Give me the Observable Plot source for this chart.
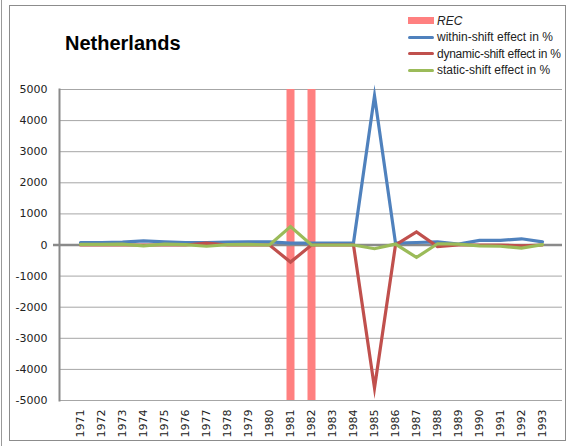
<!DOCTYPE html>
<html>
<head>
<meta charset="utf-8">
<script src="https://cdn.jsdelivr.net/npm/d3@7"></script>
<script src="https://cdn.jsdelivr.net/npm/@observablehq/plot@0.6"></script>
<style>
  html, body { margin: 0; padding: 0; background: #fff; }
  #wrap { position: relative; width: 572px; height: 446px; overflow: hidden; background: #fff; }
  #frame { position: absolute; left: 9px; top: 5px; width: 557px; height: 436px; border: 1px solid #8c8c8c; box-sizing: border-box; pointer-events: none; }
  #edge { position: absolute; left: 1px; top: 0; width: 1px; height: 446px; background: #9a9a9a; }
  #title { position: absolute; left: 65px; top: 32px; font: bold 20px "Liberation Sans", Arial, sans-serif; color: #000; }
  #legend { position: absolute; left: 408px; top: 12.5px; font: 12px "Liberation Sans", Arial, sans-serif; color: #222; }
  .li { display: flex; align-items: center; height: 16.5px; white-space: nowrap; }
  .sw { width: 26px; margin-right: 3px; flex: none; }
  #chart { position: absolute; left: 0; top: 0; }
</style>
</head>
<body>
<div id="wrap">
  <div id="edge"></div>
  <div id="chart"></div>
  <div id="frame"></div>
  <div id="title">Netherlands</div>
  <div id="legend"></div>
</div>
<script>
const years = [1971,1972,1973,1974,1975,1976,1977,1978,1979,1980,1981,1982,1983,1984,1985,1986,1987,1988,1989,1990,1991,1992,1993];
const within  = [80,80,90,130,100,80,80,90,100,100,60,60,60,70,4800,60,80,100,30,150,150,200,100];
const dynamic = [0,0,0,0,0,0,60,0,0,0,-550,0,0,0,-4600,0,420,-50,0,0,0,-30,0];
const stat    = [20,20,30,-30,30,10,-40,10,20,0,590,0,0,0,-120,30,-400,40,30,-30,-40,-100,10];
const recYears = [1981, 1982];
const yTicks = [5000,4000,3000,2000,1000,0,-1000,-2000,-3000,-4000,-5000];
const yDomain = [-5000, 5000];

const seriesNames = ["within-shift effect in %", "dynamic-shift effect in %", "static-shift effect in %"];
const seriesColors = ["#4f81bd", "#c0504d", "#9bbb59"];
const recName = "REC";
const recColor = "#ff8080";

const rows = [];
[within, dynamic, stat].forEach((vals, i) => {
  vals.forEach((v, j) => rows.push({year: years[j], value: v, series: seriesNames[i]}));
});

const fontFam = "'DejaVu Sans', sans-serif";

const chart = Plot.plot({
  width: 572,
  height: 446,
  marginLeft: 59,
  marginRight: 10,
  marginTop: 89,
  marginBottom: 46,
  style: {fontFamily: fontFam, fontSize: "11px", color: "#222", background: "transparent"},
  x: {type: "point", domain: years, padding: 0.5},
  y: {domain: yDomain},
  marks: [
    Plot.ruleY(yTicks, {stroke: "#a6a6a6", strokeWidth: 1}),
    Plot.ruleX(recYears, {y1: yDomain[0], y2: yDomain[1], stroke: recColor, strokeWidth: 8}),
    Plot.ruleY([0], {stroke: "#8a8a8a", strokeWidth: 2.5}),
    Plot.axisY({ticks: [0], tickSize: 6, tickFormat: () => "", label: null, stroke: "#8a8a8a", strokeWidth: 2.5}),
    Plot.axisY({ticks: yTicks, tickSize: 0, tickPadding: 12, tickFormat: d => String(d), label: null}),
    Plot.axisX({tickSize: 0, tickPadding: 9, tickRotate: -90, tickFormat: d => String(d), label: null}),
    Plot.frame({anchor: "left", stroke: "#8a8a8a", strokeWidth: 2}),
    ...seriesNames.map((name, i) =>
      Plot.lineY(rows.filter(r => r.series === name), {x: "year", y: "value", stroke: seriesColors[i], strokeWidth: 3.2, strokeLinejoin: "miter", strokeMiterlimit: 10})
    )
  ]
});
document.getElementById("chart").appendChild(chart);

const legend = document.getElementById("legend");
const addItem = (label, color, isRec, letterSpacing) => {
  const d = document.createElement("div");
  d.className = "li";
  const sw = document.createElement("div");
  sw.className = "sw";
  sw.style.background = color;
  sw.style.height = isRec ? "7px" : "3px";
  if (!isRec) sw.style.borderRadius = "2px";
  const t = document.createElement("span");
  t.textContent = label;
  if (isRec) t.style.fontStyle = "italic";
  if (letterSpacing) t.style.letterSpacing = letterSpacing;
  d.appendChild(sw); d.appendChild(t);
  legend.appendChild(d);
};
addItem(recName, recColor, true);
seriesNames.forEach((n, i) => addItem(n, seriesColors[i], false, i === 1 ? "-0.25px" : null));
</script>
</body>
</html>
